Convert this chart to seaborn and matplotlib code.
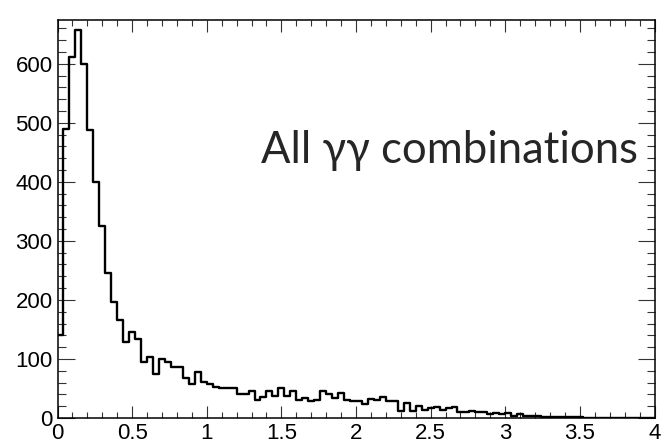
import numpy as np
import pandas as pd
import matplotlib
matplotlib.use("Agg")
import matplotlib.pyplot as plt
from matplotlib.ticker import MultipleLocator
import seaborn as sns

# Histogram contents: 100 bins of width 0.04 on [0, 4]
bin_edges = [round(0.04 * i, 2) for i in range(101)]
counts = [
    141, 489, 612, 657, 600, 488, 399, 325, 246, 196,
    166, 128, 146, 134, 95, 103, 74, 100, 95, 87,
    87, 68, 58, 78, 61, 58, 52, 51, 51, 51,
    40, 40, 45, 30, 35, 46, 37, 51, 38, 45,
    31, 34, 28, 31, 46, 41, 34, 42, 31, 29,
    29, 24, 32, 31, 35, 28, 29, 12, 25, 12,
    21, 14, 17, 18, 14, 17, 19, 11, 11, 12,
    10, 11, 7, 8, 6, 8, 4, 6, 4, 4,
    3, 2, 1, 1, 2, 1, 2, 1, 0, 0,
    0, 0, 0, 0, 0, 0, 0, 0, 0, 0,
]
x_ticks = [0, 0.5, 1, 1.5, 2, 2.5, 3, 3.5, 4]
x_tick_labels = ["0", "0.5", "1", "1.5", "2", "2.5", "3", "3.5", "4"]
y_ticks = [0, 100, 200, 300, 400, 500, 600]
y_tick_labels = ["0", "100", "200", "300", "400", "500", "600"]
annotation = "All \u03b3\u03b3 combinations"

edges = np.array(bin_edges)
centers = 0.5 * (edges[:-1] + edges[1:])
df = pd.DataFrame({"mass": centers, "entries": counts})

sns.set_style("ticks")
plt.rcParams["font.family"] = ["Liberation Sans", "DejaVu Sans"]

W, H = 663, 443
fig = plt.figure(figsize=(W / 100, H / 100), dpi=100)
ax = fig.add_axes([57.5 / W, 1 - 418 / H, (654.5 - 57.5) / W, (418 - 20) / H])

sns.histplot(data=df, x="mass", weights="entries", bins=bin_edges,
             element="step", fill=False, color="black", linewidth=1.7, ax=ax)

ax.set_xlim(0, 4)
ax.set_ylim(0, 674)
ax.set_xlabel("")
ax.set_ylabel("")

ax.set_xticks(x_ticks)
ax.set_xticklabels(x_tick_labels)
ax.set_yticks(y_ticks)
ax.set_yticklabels(y_tick_labels)
ax.xaxis.set_minor_locator(MultipleLocator(0.1))
ax.yaxis.set_minor_locator(MultipleLocator(20))

ax.tick_params(axis="both", which="both", direction="in",
               top=True, right=True, color="#333333", width=0.8,
               labelsize=16, labelcolor="black")
ax.tick_params(axis="x", which="major", length=8.5, pad=3.5)
ax.tick_params(axis="x", which="minor", length=4.3)
ax.tick_params(axis="y", which="major", length=12.5, pad=3.5)
ax.tick_params(axis="y", which="minor", length=5.8)

for s in ax.spines.values():
    s.set_linewidth(1.1)
    s.set_color("black")

fig.text(638 / W, 1 - 163 / H, annotation, ha="right", va="baseline",
         fontsize=31.4, family=["Lato", "Open Sans", "DejaVu Sans"])

fig.savefig("out.png", dpi=100)
